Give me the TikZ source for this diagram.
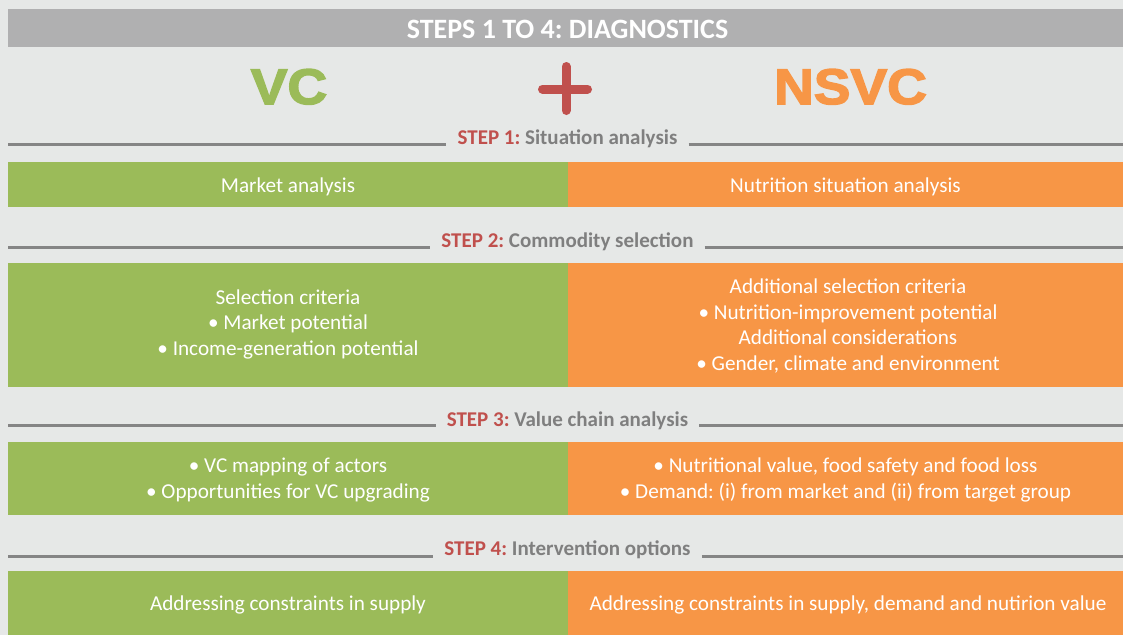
\documentclass[tikz,border=0pt]{standalone}
\usepackage{fontspec}
\setmainfont{Carlito}
\newfontfamily\blackfont[FakeStretch=1.1,FakeBold=3]{Liberation Sans Bold}
\frenchspacing
\definecolor{bgc}{HTML}{E6E8E7}
\definecolor{hdrc}{HTML}{B0B0B1}
\definecolor{vcgreen}{HTML}{9BBB59}
\definecolor{nsorange}{HTML}{F79646}
\definecolor{stepred}{HTML}{C0504D}
\definecolor{stepgray}{HTML}{7F7F7F}
\definecolor{rulegray}{HTML}{858585}
\tikzset{
  gbox/.style={fill=vcgreen, draw=none},
  obox/.style={fill=nsorange, draw=none},
  boxtext/.style={text=white, align=center, inner sep=0pt,
    font=\fontsize{21.2}{25.5}\selectfont},
  steplabel/.style={anchor=base, inner xsep=11pt, inner ysep=0pt,
    text=stepgray, font=\fontsize{21}{25}\selectfont\bfseries},
  steprule/.style={draw=rulegray, line width=3pt},
  bigword/.style={anchor=base, inner sep=0pt,
    font=\fontsize{50}{55}\blackfont},
}
\begin{document}
\begin{tikzpicture}[x=1pt,y=-1pt]
\useasboundingbox (0,0) rectangle (1123,635);
\fill[bgc] (0,0) rectangle (1123,635);
% header
\fill[hdrc] (8,9) rectangle (1123,47);
\node[anchor=base, inner sep=0pt, text=white, font=\fontsize{28}{30}\selectfont\bfseries] (hdr) at (567.5,38) {STEPS 1 TO 4: DIAGNOSTICS};
% VC + NSVC
\node[bigword, text=vcgreen] (vc) at (289,104) {VC};
\node[bigword, text=nsorange] (nsvc) at (850.5,104) {NSVC};
\coordinate (plusL) at (542.5,89);
\coordinate (plusR) at (587.5,89);
\coordinate (plusT) at (566,66.5);
\coordinate (plusB) at (566,110.5);
\draw[stepred, line width=9pt, line cap=round] (plusL) -- (plusR);
\draw[stepred, line width=9pt, line cap=round] (plusT) -- (plusB);
% step 1
\node[steplabel] (s1) at (567.5,144) {\textcolor{stepred}{STEP 1:} Situation analysis};
\coordinate (s1l) at (8,144.5);
\coordinate (s1r) at (1123,144.5);
\draw[steprule] (s1l) -- (s1l -| s1.west);
\draw[steprule] (s1r -| s1.east) -- (s1r);
\fill[gbox] (8,162) rectangle (568,207);
\fill[obox] (568,162) rectangle (1123,207);
\node[boxtext] (b1l) at (288,187) {Market analysis};
\node[boxtext] (b1r) at (845.5,187) {Nutrition situation analysis};
% step 2
\node[steplabel] (s2) at (567.5,247.5) {\textcolor{stepred}{STEP 2:} Commodity selection};
\coordinate (s2l) at (8,247);
\coordinate (s2r) at (1123,247);
\draw[steprule] (s2l) -- (s2l -| s2.west);
\draw[steprule] (s2r -| s2.east) -- (s2r);
\fill[gbox] (8,263) rectangle (568,387);
\fill[obox] (568,263) rectangle (1123,387);
\node[boxtext] (b2l) at (288,324) {Selection criteria\\ \textbullet\ Market potential\\ \textbullet\ Income-generation potential};
\node[boxtext] (b2r) at (848,326) {Additional selection criteria\\ \textbullet\ Nutrition-improvement potential\\ Additional considerations\\ \textbullet\ Gender, climate and environment};
% step 3
\node[steplabel] (s3) at (567.5,426) {\textcolor{stepred}{STEP 3:} Value chain analysis};
\coordinate (s3l) at (8,425.5);
\coordinate (s3r) at (1123,425.5);
\draw[steprule] (s3l) -- (s3l -| s3.west);
\draw[steprule] (s3r -| s3.east) -- (s3r);
\fill[gbox] (8,442) rectangle (568,515);
\fill[obox] (568,442) rectangle (1123,515);
\node[boxtext] (b3l) at (288,480) {\textbullet\ VC mapping of actors\\ \textbullet\ Opportunities for VC upgrading};
\node[boxtext] (b3r) at (845.5,480) {\textbullet\ Nutritional value, food safety and food loss\\ \textbullet\ Demand: (i) from market and (ii) from target group};
% step 4
\node[steplabel] (s4) at (567.5,555) {\textcolor{stepred}{STEP 4:} Intervention options};
\coordinate (s4l) at (8,556.5);
\coordinate (s4r) at (1123,556.5);
\draw[steprule] (s4l) -- (s4l -| s4.west);
\draw[steprule] (s4r -| s4.east) -- (s4r);
\fill[gbox] (8,571) rectangle (568,635);
\fill[obox] (568,571) rectangle (1123,635);
\node[boxtext] (b4l) at (288,605) {Addressing constraints in supply};
\node[boxtext] (b4r) at (848,605) {Addressing constraints in supply, demand and nutirion value};
\end{tikzpicture}
\end{document}
